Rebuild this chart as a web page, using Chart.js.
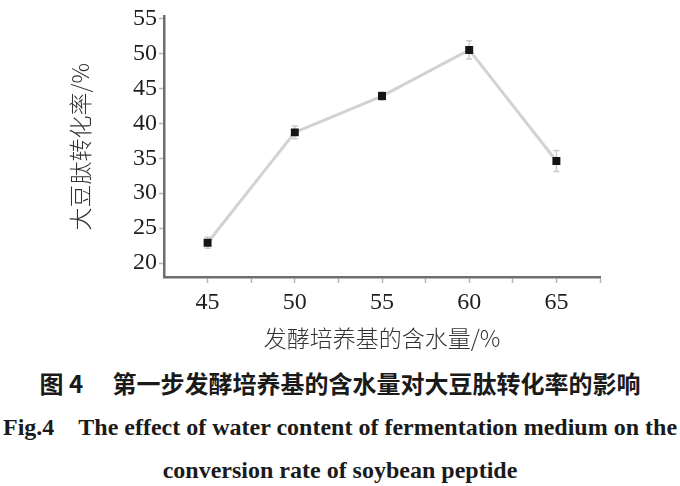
<!DOCTYPE html>
<html>
<head>
<meta charset="utf-8">
<script src="https://cdn.jsdelivr.net/npm/chart.js@4.4.1/dist/chart.umd.min.js"></script>
<style>
  html, body { margin: 0; padding: 0; background: #fff; }
  #wrap { position: relative; width: 680px; height: 486px; }
  #chartBox { position: absolute; left: 0; top: 0; width: 680px; height: 352px; }
  .cap { position: absolute; left: 0; width: 680px; text-align: center; color: #1a1a1a; white-space: nowrap; }
  #cap1 { top: 366px; font-family: "Noto Sans CJK SC", sans-serif; font-weight: 700; font-size: 24px; line-height: 34px; }
  #cap2 { top: 411px; font-family: "Liberation Serif", serif; font-weight: 700; font-size: 24px; line-height: 32px; }
  #cap3 { top: 454px; font-family: "Liberation Serif", serif; font-weight: 700; font-size: 24px; line-height: 32px; }
</style>
</head>
<body>
<div id="wrap">
  <div id="chartBox"><canvas id="waterChart"></canvas></div>
  <div class="cap" id="cap1">图 4　 第一步发酵培养基的含水量对大豆肽转化率的影响</div>
  <div class="cap" id="cap2">Fig.4&nbsp;&nbsp;&nbsp;&nbsp;The effect of water content of fermentation medium on the</div>
  <div class="cap" id="cap3">conversion rate of soybean peptide</div>
</div>
<script>
const waterContent = [45, 50, 55, 60, 65];
const conversionRate = [22.9, 38.7, 43.9, 50.5, 34.6];
const errorBars = [0.8, 0.9, 0.6, 1.3, 1.5];
const xTicks = [45, 47.5, 50, 52.5, 55, 57.5, 60, 62.5, 65, 67.5];
const yTicks = [20, 25, 30, 35, 40, 45, 50, 55];

const serif = '"Liberation Serif", "Times New Roman", serif';
const cjk = '"Noto Sans CJK SC", sans-serif';

// faint vertical error bars like the original figure
const errorBarPlugin = {
  id: 'errorBars',
  beforeDatasetsDraw(chart) {
    const { ctx, scales: { x, y } } = chart;
    ctx.save();
    ctx.strokeStyle = 'rgba(160,160,160,0.55)';
    ctx.lineWidth = 1.5;
    waterContent.forEach((w, i) => {
      const px = x.getPixelForValue(w);
      const top = y.getPixelForValue(conversionRate[i] + errorBars[i]);
      const bot = y.getPixelForValue(conversionRate[i] - errorBars[i]);
      ctx.beginPath();
      ctx.moveTo(px, top); ctx.lineTo(px, bot);
      ctx.moveTo(px - 3, top); ctx.lineTo(px + 3, top);
      ctx.moveTo(px - 3, bot); ctx.lineTo(px + 3, bot);
      ctx.stroke();
    });
    ctx.restore();
  }
};

const ctx = document.getElementById('waterChart').getContext('2d');
new Chart(ctx, {
  type: 'line',
  data: {
    datasets: [{
      data: waterContent.map((w, i) => ({ x: w, y: conversionRate[i] })),
      borderColor: '#d2d2d2',
      borderWidth: 3,
      pointStyle: 'rect',
      pointRadius: 3.5,
      pointBackgroundColor: '#151515',
      pointBorderColor: '#151515',
      tension: 0
    }]
  },
  options: {
    responsive: true,
    maintainAspectRatio: false,
    animation: false,
    layout: { padding: { left: 66, right: 80, top: 13, bottom: 0 } },
    plugins: { legend: { display: false }, tooltip: { enabled: false } },
    scales: {
      x: {
        type: 'linear',
        min: 42.5,
        max: 67.5,
        afterBuildTicks: s => { s.ticks = xTicks.map(v => ({ value: v })); },
        afterFit: s => { s.height = 75; },
        border: { color: '#6e6e6e', width: 2.5 },
        grid: { drawOnChartArea: false, color: '#b5b5b5', tickLength: 6, tickWidth: 1.5 },
        ticks: {
          autoSkip: false,
          maxRotation: 0,
          padding: 5,
          color: '#1e1e1e',
          font: { family: serif, size: 24 },
          callback: v => (v % 5 === 0 ? String(v) : '')
        },
        title: {
          display: true,
          text: '发酵培养基的含水量/%',
          color: '#333',
          padding: 0,
          font: { family: cjk, size: 23, weight: 300 }
        }
      },
      y: {
        min: 18,
        max: 55.3,
        afterBuildTicks: s => { s.ticks = yTicks.map(v => ({ value: v })); },
        afterFit: s => { s.width = 98; },
        border: { color: '#6e6e6e', width: 2.5 },
        grid: { drawOnChartArea: false, color: '#b5b5b5', tickLength: 5, tickWidth: 1.5 },
        ticks: {
          padding: 2,
          color: '#1e1e1e',
          font: { family: serif, size: 24 }
        },
        title: {
          display: true,
          text: '大豆肽转化率/%',
          color: '#333',
          padding: 0,
          font: { family: cjk, size: 23, weight: 300 }
        }
      }
    }
  },
  plugins: [errorBarPlugin]
});
</script>
</body>
</html>
